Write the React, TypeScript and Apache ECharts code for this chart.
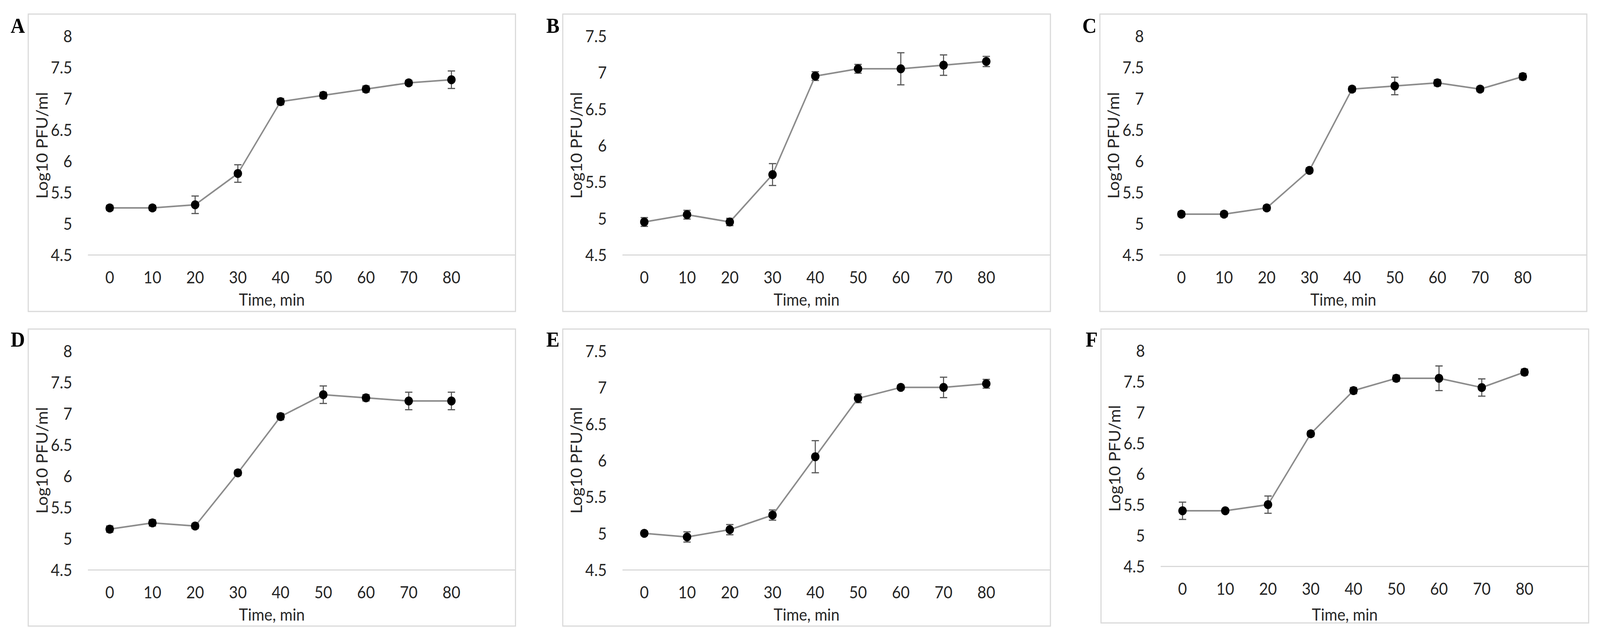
import React, { useEffect, useRef } from "react";
import * as echarts from "echarts";

const times = ["0", "10", "20", "30", "40", "50", "60", "70", "80"];
const panelLetters = ["A", "B", "C", "D", "E", "F"];

const meanA = [5.25, 5.25, 5.3, 5.8, 6.95, 7.05, 7.15, 7.25, 7.3];
const sdA = [0.04, 0.04, 0.14, 0.14, 0.05, 0.05, 0.05, 0.04, 0.14];
const meanB = [4.95, 5.05, 4.95, 5.6, 6.95, 7.05, 7.05, 7.1, 7.15];
const sdB = [0.06, 0.06, 0.05, 0.15, 0.06, 0.06, 0.22, 0.14, 0.07];
const meanC = [5.15, 5.15, 5.25, 5.85, 7.15, 7.2, 7.25, 7.15, 7.35];
const sdC = [0.04, 0.04, 0.04, 0.04, 0.04, 0.14, 0.05, 0.04, 0.05];
const meanD = [5.15, 5.25, 5.2, 6.05, 6.95, 7.3, 7.25, 7.2, 7.2];
const sdD = [0.05, 0.05, 0.04, 0.04, 0.05, 0.14, 0.05, 0.14, 0.14];
const meanE = [5.0, 4.95, 5.05, 5.25, 6.05, 6.85, 7.0, 7.0, 7.05];
const sdE = [0.03, 0.07, 0.07, 0.07, 0.22, 0.06, 0.03, 0.14, 0.06];
const meanF = [5.4, 5.4, 5.5, 6.65, 7.35, 7.55, 7.55, 7.4, 7.65];
const sdF = [0.14, 0.03, 0.14, 0.04, 0.05, 0.05, 0.2, 0.14, 0.05];

const yMins = [4.5, 4.5, 4.5, 4.5, 4.5, 4.5];
const yMaxs = [8, 7.5, 8, 8, 7.5, 8];

const yTitle = "Log10 PFU/ml";
const xTitle = "Time, min";

const W = 4364;
const H = 1630;

// layout (px, in the 4364x1630 design space)
const boxes = [
  { x: 77, y: 36, w: 1329, h: 761 },
  { x: 1535, y: 36, w: 1330, h: 761 },
  { x: 3000, y: 36, w: 1328, h: 761 },
  { x: 77, y: 842, w: 1329, h: 760 },
  { x: 1535, y: 842, w: 1330, h: 760 },
  { x: 3003, y: 842, w: 1330, h: 752 },
];
const plotTopOff = [56, 56, 56, 56, 56, 55];
const plotHeights = [560, 560, 560, 560, 560, 552];

const FONT = "Lato, 'Open Sans', sans-serif";

export default function App() {
  const ref = useRef<HTMLDivElement>(null);
  const vw = typeof window !== "undefined" ? window.innerWidth : W;
  const vh = typeof window !== "undefined" ? window.innerHeight : H;
  const sx = vw / W;
  const sy = vh / H;

  useEffect(() => {
    if (!ref.current) return;
    document.body.style.margin = "0";
    document.body.style.overflow = "hidden";
    const chart = echarts.init(ref.current, null, { renderer: "svg" });
    const means = [meanA, meanB, meanC, meanD, meanE, meanF];
    const sds = [sdA, sdB, sdC, sdD, sdE, sdF];
    const cats = [...times, ""];

    const grids: any[] = [];
    const xAxes: any[] = [];
    const yAxes: any[] = [];
    const series: any[] = [];
    const graphics: any[] = [];

    boxes.forEach((b, i) => {
      const left = b.x + 164;
      const top = b.y + plotTopOff[i];
      grids.push({ left, top, width: b.x + b.w - left, height: plotHeights[i], containLabel: false });
      xAxes.push({
        type: "category",
        gridIndex: i,
        data: cats,
        boundaryGap: true,
        axisLine: { show: true, lineStyle: { color: "#d9d9d9", width: 3 } },
        axisTick: { show: false },
        axisLabel: { color: "#262626", fontSize: 42, fontFamily: FONT, margin: 36, interval: 0 },
        splitLine: { show: false },
      });
      yAxes.push({
        type: "value",
        gridIndex: i,
        min: yMins[i],
        max: yMaxs[i],
        interval: 0.5,
        axisLine: { show: false },
        axisTick: { show: false },
        splitLine: { show: false },
        axisLabel: { color: "#262626", fontSize: 42, fontFamily: FONT, margin: 44 },
        name: yTitle,
        nameLocation: "middle",
        nameGap: 104,
        nameRotate: 90,
        nameTextStyle: { color: "#262626", fontSize: 43, fontFamily: FONT },
      });
      series.push({
        type: "custom",
        xAxisIndex: i,
        yAxisIndex: i,
        z: 1,
        silent: true,
        data: means[i].map((m, k) => [k, m - sds[i][k], m + sds[i][k]]),
        renderItem: (params: any, api: any) => {
          const x = api.value(0);
          const lo = api.coord([x, api.value(1)]);
          const hi = api.coord([x, api.value(2)]);
          const hw = 10;
          const st = { stroke: "#595959", lineWidth: 3 };
          return {
            type: "group",
            children: [
              { type: "line", shape: { x1: lo[0], y1: lo[1], x2: hi[0], y2: hi[1] }, style: st },
              { type: "line", shape: { x1: lo[0] - hw, y1: lo[1], x2: lo[0] + hw, y2: lo[1] }, style: st },
              { type: "line", shape: { x1: hi[0] - hw, y1: hi[1], x2: hi[0] + hw, y2: hi[1] }, style: st },
            ],
          };
        },
      });
      series.push({
        type: "line",
        xAxisIndex: i,
        yAxisIndex: i,
        z: 3,
        data: means[i],
        symbol: "circle",
        symbolSize: 23,
        itemStyle: { color: "#000000" },
        lineStyle: { color: "#8c8c8c", width: 4 },
      });
      graphics.push({
        type: "rect",
        shape: { x: b.x, y: b.y, width: b.w, height: b.h },
        style: { fill: "none", stroke: "#d9d9d9", lineWidth: 3 },
        z: 0,
      });
      graphics.push({
        type: "text",
        x: b.x + b.w / 2,
        y: b.y + 730,
        style: {
          text: xTitle,
          fill: "#262626",
          font: `42px ${FONT}`,
          align: "center",
          verticalAlign: "middle",
        },
      });
      graphics.push({
        type: "text",
        x: b.x - 9,
        y: b.y + (i < 3 ? 56 : 53),
        style: {
          text: panelLetters[i],
          fill: "#000000",
          font: `bold 54px 'Liberation Serif', 'Times New Roman', serif`,
          align: "right",
          verticalAlign: "bottom",
        },
      });
    });

    chart.setOption({
      animation: false,
      backgroundColor: "#ffffff",
      grid: grids,
      xAxis: xAxes,
      yAxis: yAxes,
      series,
      graphic: graphics,
    });
    return () => chart.dispose();
  }, []);

  return (
    <div
      style={{
        position: "fixed",
        left: 0,
        top: 0,
        width: "100vw",
        height: "100vh",
        overflow: "hidden",
        background: "#fff",
      }}
    >
      <div
        ref={ref}
        style={{
          position: "absolute",
          left: 0,
          top: 0,
          width: W,
          height: H,
          transform: `scale(${sx}, ${sy})`,
          transformOrigin: "0 0",
          background: "#fff",
        }}
      />
    </div>
  );
}
